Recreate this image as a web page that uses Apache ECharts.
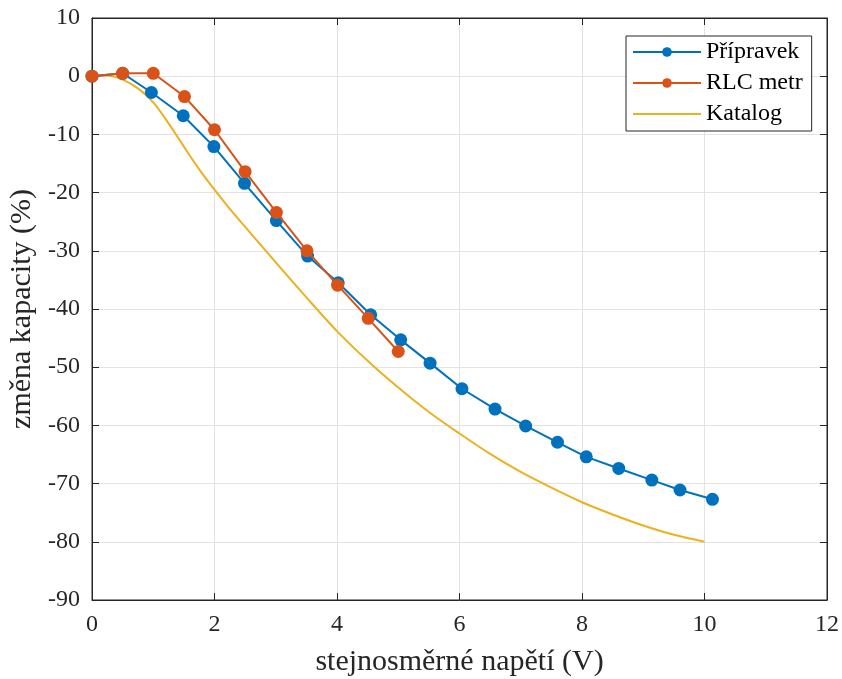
<!DOCTYPE html>
<html><head><meta charset="utf-8">
<script src="https://cdn.jsdelivr.net/npm/echarts@6/dist/echarts.min.js"></script>
<style>html,body{margin:0;padding:0;background:#fff}#c{width:842px;height:679px}</style>
</head><body><div id="c"></div>
<script>
const pripravekX = [0, 0.5, 0.97, 1.49, 1.99, 2.49, 3.01, 3.52, 4.02, 4.55, 5.04, 5.52, 6.04, 6.58, 7.08, 7.6, 8.07, 8.6, 9.14, 9.6, 10.13];
const pripravekY = [0, 0.5, -2.8, -6.8, -12.1, -18.4, -24.8, -30.9, -35.5, -41.0, -45.3, -49.3, -53.7, -57.2, -60.1, -62.9, -65.4, -67.4, -69.4, -71.1, -72.7];
const rlcX = [0, 0.5, 1.0, 1.51, 2.0, 2.5, 3.01, 3.51, 4.01, 4.51, 5.0];
const rlcY = [0, 0.5, 0.5, -3.5, -9.2, -16.4, -23.4, -30.0, -35.9, -41.6, -47.3];
const katalogX = [0, 0.25, 0.5, 0.75, 1.0, 1.25, 1.5, 1.75, 2.0, 2.25, 2.5, 3.0, 3.5, 4.0, 4.5, 5.0, 5.5, 6.0, 6.5, 7.0, 7.5, 8.0, 8.5, 9.0, 9.5, 10.0];
const katalogY = [0, 0.1, -0.6, -2.1, -4.5, -8.1, -12.1, -16.0, -19.5, -22.8, -25.9, -32.0, -38.0, -43.8, -48.9, -53.5, -57.7, -61.4, -64.9, -68.0, -70.7, -73.2, -75.3, -77.2, -78.8, -80.0];
const xTicks = [0, 2, 4, 6, 8, 10, 12];
const yTicks = [10, 0, -10, -20, -30, -40, -50, -60, -70, -80, -90];

const zip = (a, b) => a.map((v, i) => [v, b[i]]);
const font = '"Liberation Serif", "Times New Roman", serif';
const axisCol = '#262626';
const chart = echarts.init(document.getElementById('c'), null, {renderer: 'canvas'});
const baseX = {type: 'value', min: xTicks[0], max: xTicks[xTicks.length - 1], interval: 2};
const baseY = {type: 'value', min: yTicks[yTicks.length - 1], max: yTicks[0], interval: 10};
const tick = {show: true, inside: true, length: 7, lineStyle: {color: axisCol}};
const line = {show: true, onZero: false, lineStyle: {color: axisCol, width: 1}};
chart.setOption({
  animation: false,
  backgroundColor: '#fff',
  grid: {left: 92, right: 15, top: 18, bottom: 79, show: true, borderColor: axisCol, borderWidth: 1,
         containLabel: false, outerBoundsMode: 'none'},
  legend: {
    orient: 'vertical', left: 626, top: 36,
    padding: [4, 9, 5, 6],
    itemGap: 7, itemWidth: 68, itemHeight: 12,
    borderColor: axisCol, borderWidth: 1, backgroundColor: '#fff',
    textStyle: {fontFamily: font, fontSize: 24, color: '#000'},
    data: ['Přípravek', 'RLC metr', {name: 'Katalog', itemStyle: {opacity: 0}}]
  },
  xAxis: [
    Object.assign({}, baseX, {
      position: 'bottom',
      name: 'stejnosměrné napětí (V)', nameLocation: 'middle', nameGap: 47,
      nameTextStyle: {fontFamily: font, fontSize: 30, color: '#262626'},
      axisLine: line, axisTick: tick,
      axisLabel: {fontFamily: font, fontSize: 24, color: '#262626', margin: 13},
      splitLine: {show: true, lineStyle: {color: '#e3e3e3', width: 1}}
    }),
    Object.assign({}, baseX, {
      position: 'top',
      axisLine: line, axisTick: tick,
      axisLabel: {show: false}, splitLine: {show: false}
    })
  ],
  yAxis: [
    Object.assign({}, baseY, {
      position: 'left',
      name: 'změna kapacity (%)', nameLocation: 'middle', nameGap: 47,
      nameTextStyle: {fontFamily: font, fontSize: 30, color: '#262626'},
      axisLine: line, axisTick: tick,
      axisLabel: {fontFamily: font, fontSize: 24, color: '#262626', margin: 12},
      splitLine: {show: true, lineStyle: {color: '#e3e3e3', width: 1}}
    }),
    Object.assign({}, baseY, {
      position: 'right',
      axisLine: line, axisTick: tick,
      axisLabel: {show: false}, splitLine: {show: false}
    })
  ],
  series: [
    {name: 'Přípravek', type: 'line', data: zip(pripravekX, pripravekY), color: '#0072BD',
     symbol: 'circle', symbolSize: 13, lineStyle: {width: 2}, z: 3},
    {name: 'RLC metr', type: 'line', data: zip(rlcX, rlcY), color: '#D95319',
     symbol: 'circle', symbolSize: 13, lineStyle: {width: 2}, z: 4},
    {name: 'Katalog', type: 'line', data: zip(katalogX, katalogY), color: '#EDB120',
     showSymbol: false, smooth: 0.3, lineStyle: {width: 2}, z: 2}
  ]
});
</script></body></html>
